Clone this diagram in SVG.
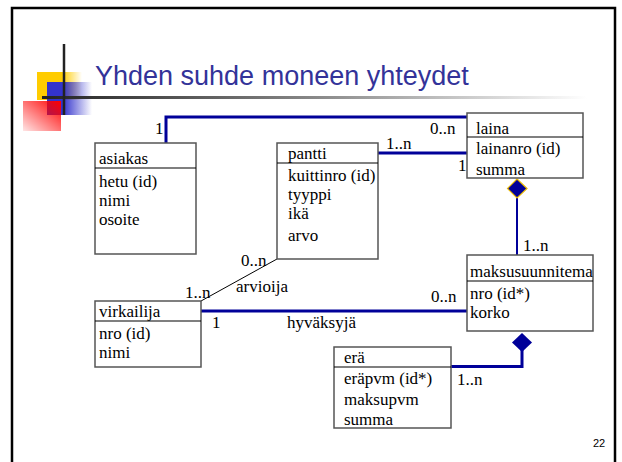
<svg xmlns="http://www.w3.org/2000/svg" width="622" height="462" viewBox="0 0 622 462">
<defs>
<linearGradient id="gY" x1="0" y1="0" x2="1" y2="0"><stop offset="0.55" stop-color="#ffcc00"/><stop offset="1" stop-color="#ffcc00" stop-opacity="0"/></linearGradient>
<linearGradient id="gB" x1="0" y1="0" x2="1" y2="0"><stop offset="0.35" stop-color="#3333cc"/><stop offset="1" stop-color="#3333cc" stop-opacity="0"/></linearGradient>
<linearGradient id="gR" x1="1" y1="0" x2="0" y2="1"><stop offset="0" stop-color="#ff0000"/><stop offset="1" stop-color="#ff0000" stop-opacity="0.1"/></linearGradient>
<linearGradient id="gL" x1="0" y1="0" x2="1" y2="0"><stop offset="0" stop-color="#222"/><stop offset="0.5" stop-color="#888"/><stop offset="1" stop-color="#fff"/></linearGradient>
<style>
.box{fill:#fff;stroke:#555;stroke-width:1.5}
.sep{stroke:#000;stroke-width:1.2}
text.t{font-family:"Liberation Serif",Tinos,"Times New Roman",Times,"Nimbus Roman","FreeSerif","DejaVu Serif","Noto Serif",serif;font-size:17px;fill:#000}
.c{fill:none;stroke:#000099;stroke-width:3}
.thin{fill:none;stroke:#000;stroke-width:1}
</style>
</defs>
<rect x="0" y="0" width="622" height="462" fill="#fff"/>
<rect x="12" y="8" width="603" height="470" fill="none" stroke="#000" stroke-width="2.5"/>
<g id="decor">
<rect x="37" y="72" width="45" height="28" fill="url(#gY)"/>
<rect x="47" y="82" width="45" height="33" fill="url(#gB)"/>
<rect x="23" y="101" width="38" height="30" fill="url(#gR)"/>
<rect x="42" y="96" width="545" height="3" fill="url(#gL)"/>
<line x1="64" y1="44" x2="64" y2="115" stroke="#222" stroke-width="2.5"/>
</g>
<text x="95" y="85" font-family="Liberation Sans,Arial,sans-serif" font-size="27" fill="#333399">Yhden suhde moneen yhteydet</text>
<g id="connectors">
<polyline class="c" points="166,143 166,117 467,117"/>
<line class="c" x1="378" y1="153" x2="467" y2="153"/>
<line x1="517" y1="196" x2="517" y2="255" stroke="#000099" stroke-width="2"/>
<polygon points="517,179 527,188.5 517,198 507.5,188.5" fill="#000099" stroke="#e8b800" stroke-width="1.2"/>
<line class="c" x1="201" y1="311" x2="467" y2="311"/>
<line class="thin" x1="201" y1="301" x2="277" y2="259"/>
<polyline class="c" points="522,350 522,366.5 451,366.5"/>
<polygon points="522,333 532,342.5 522,352 512,342.5" fill="#000099"/>
<text class="t" x="155" y="134">1</text>
<text class="t" x="430" y="134">0..n</text>
<text class="t" x="386" y="149">1..n</text>
<text class="t" x="458" y="171">1</text>
<text class="t" x="523" y="251">1..n</text>
<text class="t" x="431" y="302">0..n</text>
<text class="t" x="212" y="328">1</text>
<text class="t" x="287" y="328">hyväksyjä</text>
<text class="t" x="241" y="266">0..n</text>
<text class="t" x="185" y="298">1..n</text>
<text class="t" x="236" y="292">arvioija</text>
<text class="t" x="457" y="385">1..n</text>
</g>
<g id="asiakas">
<rect class="box" x="95" y="143" width="101" height="111"/>
<line class="sep" x1="95" y1="168" x2="196" y2="168"/>
<text class="t" x="99" y="164">asiakas</text>
<text class="t" x="99" y="187">hetu (id)</text>
<text class="t" x="99" y="206">nimi</text>
<text class="t" x="99" y="225">osoite</text>
</g>
<g id="pantti">
<rect class="box" x="277" y="143" width="101" height="116"/>
<line class="sep" x1="277" y1="163" x2="378" y2="163"/>
<text class="t" x="288" y="159">pantti</text>
<text class="t" x="288" y="181">kuittinro (id)</text>
<text class="t" x="288" y="200">tyyppi</text>
<text class="t" x="288" y="219">ikä</text>
<text class="t" x="288" y="241">arvo</text>
</g>
<g id="laina">
<rect class="box" x="467" y="113" width="116" height="65"/>
<line class="sep" x1="467" y1="137" x2="583" y2="137"/>
<text class="t" x="476" y="134">laina</text>
<text class="t" x="476" y="154">lainanro (id)</text>
<text class="t" x="476" y="175">summa</text>
</g>
<g id="maksusuunnitema">
<rect class="box" x="467" y="255" width="126" height="76"/>
<line class="sep" x1="467" y1="281" x2="593" y2="281"/>
<text class="t" x="470" y="277">maksusuunnitema</text>
<text class="t" x="470" y="299">nro (id*)</text>
<text class="t" x="470" y="318">korko</text>
</g>
<g id="era">
<rect class="box" x="334" y="347" width="117" height="81"/>
<line class="sep" x1="334" y1="367" x2="451" y2="367"/>
<text class="t" x="344" y="363">erä</text>
<text class="t" x="344" y="384">eräpvm (id*)</text>
<text class="t" x="344" y="405">maksupvm</text>
<text class="t" x="344" y="425">summa</text>
</g>
<g id="virkailija">
<rect class="box" x="95" y="301" width="106" height="66"/>
<line class="sep" x1="95" y1="321" x2="201" y2="321"/>
<text class="t" x="99" y="317">virkailija</text>
<text class="t" x="99" y="339">nro (id)</text>
<text class="t" x="99" y="358">nimi</text>
</g>
<text x="593" y="447" font-family="Liberation Sans,Arial,sans-serif" font-size="11" fill="#000">22</text>
</svg>
